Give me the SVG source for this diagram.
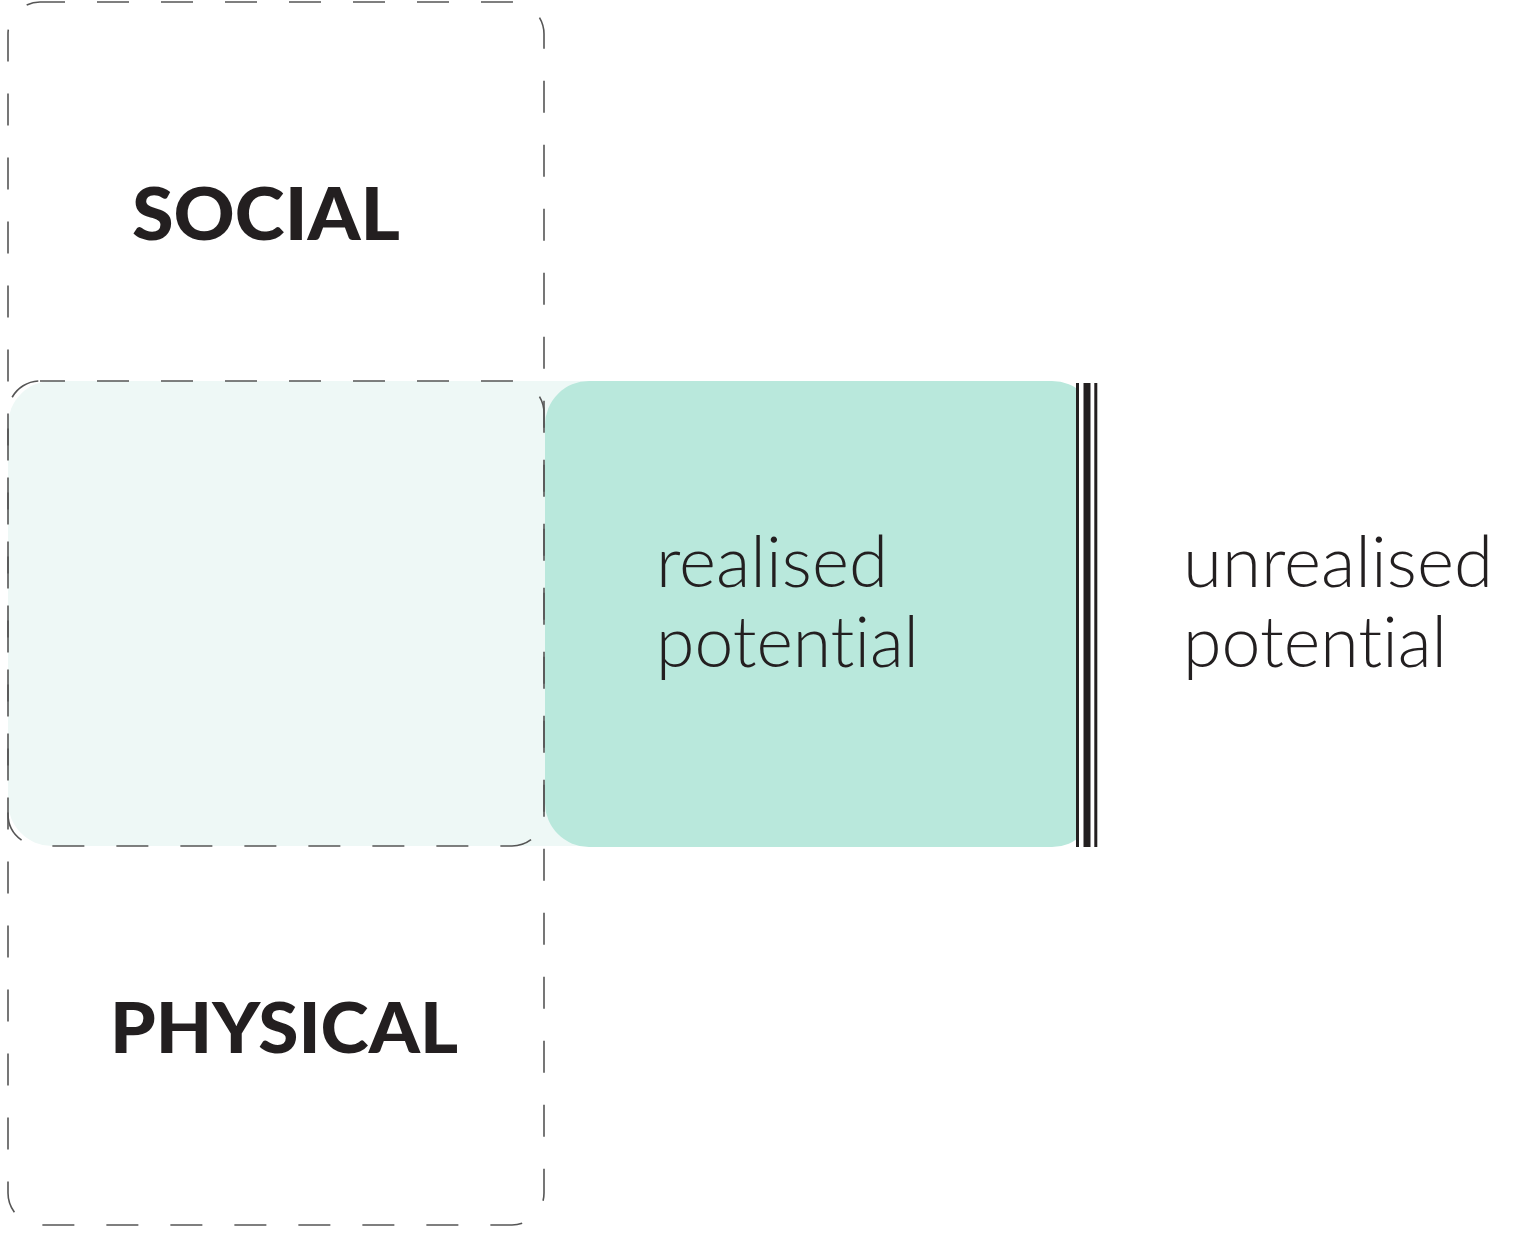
<svg xmlns="http://www.w3.org/2000/svg" width="1528" height="1240" viewBox="0 0 1528 1240">
<style>
.dash{fill:none;stroke:#555;stroke-width:1.6;stroke-dasharray:32 32;stroke-dashoffset:7}
.bold{font-family:Lato,"Open Sans","Liberation Sans",sans-serif;font-weight:900;fill:#231f20}
.light{font-family:Lato,"Open Sans","Liberation Sans",sans-serif;font-weight:300;fill:#231f20;font-size:70px;font-variant-ligatures:none}
.bar{fill:#231f20}
</style>
<rect width="1528" height="1240" fill="#fff"/>
<g id="fills">
<path d="M52,381 H640 V846 H52 A44,44 0 0 1 8,802 V425 A44,44 0 0 1 52,381 Z" fill="#eef8f6"/>
<rect id="realised-box" x="545" y="381" width="551" height="466" rx="44" fill="#b9e8dc"/>
<rect x="1076" y="376" width="26" height="476" fill="#fff"/>
</g>
<g id="frames">
<rect id="social-physical" class="dash" x="8" y="2" width="536" height="1223" rx="32"/>
<rect id="overlap" class="dash" x="8" y="381" width="536" height="465" rx="32"/>
</g>
<g id="limit">
<rect class="bar" x="1076" y="383" width="3" height="464"/>
<rect class="bar" x="1083.5" y="383" width="7" height="464"/>
<rect class="bar" x="1094.3" y="383" width="3" height="464"/>
</g>
<g id="social"><text class="bold" x="132" y="240" font-size="72" textLength="268" lengthAdjust="spacingAndGlyphs">SOCIAL</text></g>
<g id="physical"><text class="bold" x="110" y="1053" font-size="70" textLength="348" lengthAdjust="spacingAndGlyphs">PHYSICAL</text></g>
<g id="realised"><text class="light" x="656" y="587" textLength="232" lengthAdjust="spacingAndGlyphs">realised</text><text class="light" x="656" y="667" textLength="263" lengthAdjust="spacingAndGlyphs">potential</text></g>
<g id="unrealised"><text class="light" x="1183" y="587" textLength="310" lengthAdjust="spacingAndGlyphs">unrealised</text><text class="light" x="1183" y="667" textLength="264" lengthAdjust="spacingAndGlyphs">potential</text></g>
</svg>
